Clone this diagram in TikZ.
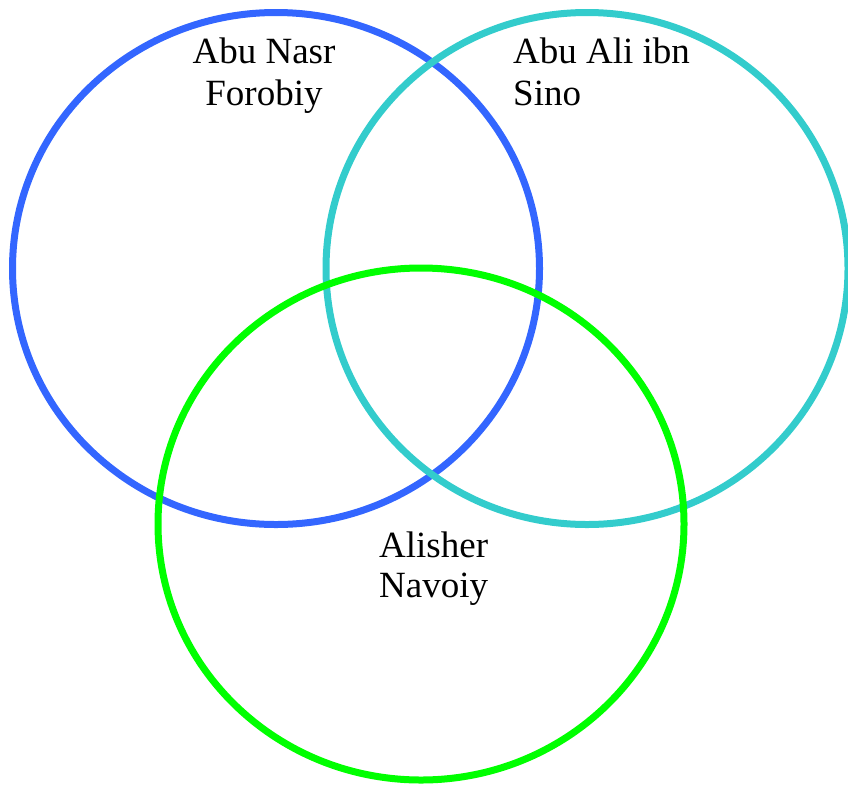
\documentclass[tikz,border=0pt]{standalone}
\usepackage{fontspec}
\setmainfont{Liberation Serif}
\definecolor{vblue}{HTML}{3366FF}
\definecolor{vcyan}{HTML}{33CCCC}
\definecolor{vgreen}{HTML}{00FF00}
\begin{document}
\begin{tikzpicture}[x=1pt,y=-1pt,
  ring/.style={line width=7pt},
  label/.style={inner sep=0pt,font=\fontsize{37}{41.5}\selectfont}]
\useasboundingbox (0,0) rectangle (848,785);
\clip (0,0) rectangle (848,785);
\draw[ring,vblue] (276,268.5) ellipse [x radius=263.5pt, y radius=256pt];
\draw[ring,vcyan] (587,268.5) ellipse [x radius=261pt, y radius=256pt];
\draw[ring,vgreen] (421,524) ellipse [x radius=263pt, y radius=256pt];
\node[label,align=center,anchor=base] (farobi) at (264,105) {Abu Nasr\\Forobiy};
\node[label,align=left,anchor=base west] (sino) at (513,105) {Abu Ali ibn\\Sino};
\node[label,align=left,anchor=base west,font=\fontsize{37}{40}\selectfont] (navoiy) at (379,597) {Alisher\\Navoiy};
\end{tikzpicture}
\end{document}
